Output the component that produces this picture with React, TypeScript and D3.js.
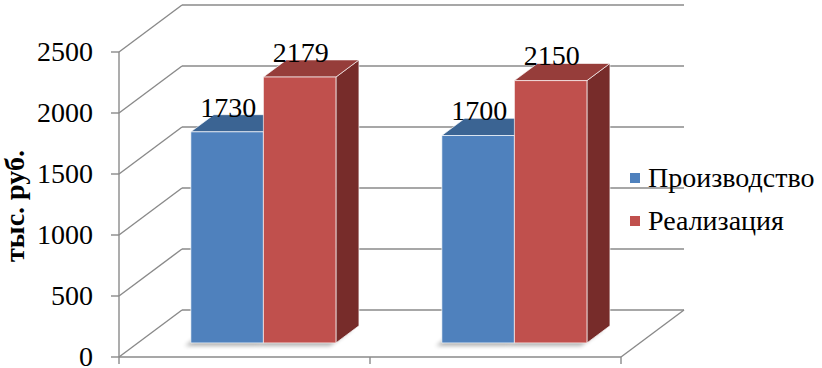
import React from 'react';
import * as d3 from 'd3';

const categories = ['A', 'B'];
const seriesNames = ['Производство', 'Реализация'];
const production = [1730, 1700];
const sales = [2179, 2150];
const yTicks = [0, 500, 1000, 1500, 2000, 2500];

const W = 822;
const H = 368;
// depth offset of the 3D box
const DX = 63;
const DY = -47;
// bar depth range (0 = front, 1 = back wall)
const D0 = 0.3;
const D1 = 0.665;

const faceColors = [
  { front: '#4F81BD', top: '#3B6493', side: '#2E4F78' },
  { front: '#C0504D', top: '#963D3A', side: '#772C2A' },
];
const gridColor = '#8a8a8a';
const serif = { fontFamily: "'Liberation Serif', serif" };

const x = d3.scaleBand<string>().domain(categories).range([119, 621]).padding(0);
const xs = d3.scaleBand<string>().domain(seriesNames).range([0, x.bandwidth()]).paddingInner(0).paddingOuter(0.73);
const y = d3.scaleLinear().domain([0, 2500]).range([357, 52]);

// project a front-plane point back into the box by depth d
const p = (xf: number, v: number, d: number): [number, number] => [xf + DX * d, y(v) + DY * d];
const poly = (pts: [number, number][]) => d3.line()(pts)! + 'Z';

export default function App() {
  const values = [production, sales];
  const x0 = x.range()[0];
  const x1 = x.range()[1];

  const bars = categories.flatMap((c, ci) =>
    seriesNames.map((s, si) => {
      const v = values[si][ci];
      const l = (x(c) as number) + (xs(s) as number);
      const r = l + xs.bandwidth();
      const col = faceColors[si];
      const front = poly([p(l, 0, D0), p(r, 0, D0), p(r, v, D0), p(l, v, D0)]);
      const top = poly([p(l, v, D0), p(r, v, D0), p(r, v, D1), p(l, v, D1)]);
      const side = poly([p(r, 0, D0), p(r, 0, D1), p(r, v, D1), p(r, v, D0)]);
      const shadow = poly([p(l, 0, D0), p(r, 0, D0), p(r, 0, D1), p(l, 0, D1)]);
      const lx = (l + r) / 2 + DX * D0 + 1;
      const ly = p(l, v, D1)[1] + 2;
      return { key: c + s, v, col, front, top, side, shadow, lx, ly };
    })
  );

  return (
    <svg width={W} height={H} style={{ position: 'absolute', left: 0, top: 0, background: '#fff' }}>
      <defs>
        <filter id="blur" x="-20%" y="-20%" width="140%" height="140%">
          <feGaussianBlur stdDeviation="2" />
        </filter>
      </defs>

      {/* back wall grid + left wall diagonals */}
      {yTicks.map((t) => {
        const a = p(x0, t, 0);
        const b = p(x0, t, 1);
        const c = p(x1, t, 1);
        return (
          <g key={t} stroke={gridColor} strokeWidth={1.4} fill="none">
            <line x1={b[0]} y1={b[1]} x2={c[0]} y2={c[1]} />
            <line x1={a[0]} y1={a[1]} x2={b[0]} y2={b[1]} />
          </g>
        );
      })}
      {/* floor right edge */}
      <line x1={p(x1, 0, 0)[0]} y1={p(x1, 0, 0)[1]} x2={p(x1, 0, 1)[0]} y2={p(x1, 0, 1)[1]} stroke={gridColor} strokeWidth={1.4} />

      {/* bar shadows */}
      {bars.map((b) => (
        <path key={'sh' + b.key} d={b.shadow} fill="#000" opacity={0.3} transform="translate(-6,3)" filter="url(#blur)" />
      ))}

      {/* bars */}
      {bars.map((b) => (
        <g key={b.key} stroke="rgba(255,255,255,0.65)" strokeWidth={1} strokeLinejoin="round">
          <path d={b.side} fill={b.col.side} />
          <path d={b.top} fill={b.col.top} />
          <path d={b.front} fill={b.col.front} />
        </g>
      ))}

      {/* front axes */}
      <g stroke={gridColor} strokeWidth={1.4}>
        <line x1={x0} y1={y(0)} x2={x1} y2={y(0)} />
        <line x1={x0} y1={y(0)} x2={x0} y2={y(2500)} />
        {yTicks.map((t) => (
          <line key={t} x1={x0 - 8} y1={y(t)} x2={x0} y2={y(t)} />
        ))}
        {[x0, ...categories.map((c) => (x(c) as number) + x.bandwidth())].map((xx, i) => (
          <line key={i} x1={xx} y1={y(0)} x2={xx} y2={y(0) + 7} />
        ))}
      </g>

      {/* y tick labels */}
      <g style={serif} fontSize={28} fill="#000" textAnchor="end">
        {yTicks.map((t) => (
          <text key={t} x={93} y={y(t)} dy="0.33em">{t}</text>
        ))}
      </g>

      {/* y axis title */}
      <text transform="translate(24,206) rotate(-90)" textAnchor="middle" style={serif} fontSize={28} fontWeight="bold">
        тыс. руб.
      </text>

      {/* data labels */}
      <g style={serif} fontSize={28} fill="#000" textAnchor="middle">
        {bars.map((b) => (
          <text key={'l' + b.key} x={b.lx} y={b.ly}>{b.v}</text>
        ))}
      </g>

      {/* legend */}
      <g style={serif} fontSize={28}>
        {seriesNames.map((s, i) => (
          <g key={s} transform={`translate(630,${173 + i * 43})`}>
            <rect width={10} height={10} fill={faceColors[i].front} />
            <text x={18} y={14}>{s}</text>
          </g>
        ))}
      </g>
    </svg>
  );
}
